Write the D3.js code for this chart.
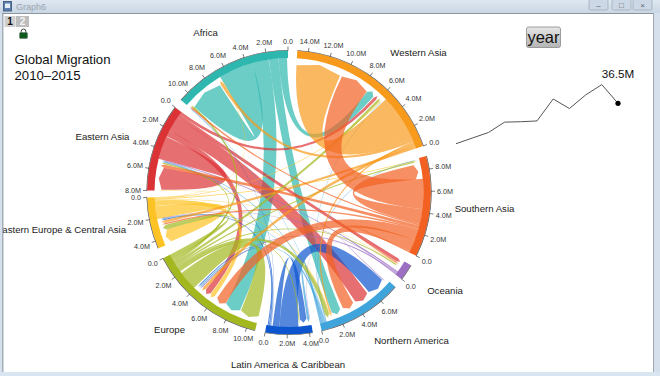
<!DOCTYPE html>
<html>
<head>
<meta charset="utf-8">
<script src="https://cdn.jsdelivr.net/npm/d3@7"></script>
<style>
  html, body { margin: 0; padding: 0; background: #fff; overflow: hidden; }
  svg { display: block; font-family: "Liberation Sans", Arial, sans-serif; }
</style>
</head>
<body>
<svg id="chart" width="660" height="376"></svg>
<script>
// regions clockwise from 12 o'clock
const regionCodes = ["WA", "SA", "OC", "NA", "LA", "EU", "EE", "EA", "AF"];
const regionNames = ["Western Asia", "Southern Asia", "Oceania", "Northern America", "Latin America & Caribbean", "Europe", "Eastern Europe & Central Asia", "Eastern Asia", "Africa"];
const regionTotals = [15, 9.2, 1.5, 7.8, 4.3, 10.8, 4.7, 8, 10.9];
const regionColors = ["#F89A1C", "#F26122", "#9C6FC4", "#3FA3DC", "#0D55CF", "#A3B81E", "#FDC324", "#DB3236", "#2DB7AE"];

// outflows of each region: [destination, size in M, position on own axis, position on destination axis]
const flowsAF = [["WA", 0.8, 0.1, 6.55], ["NA", 0.9, 0.92, 1.4], ["EU", 1.55, 1.85, 7.3], ["AF", 3.35, 3.4, 7.2]];
const flowsWA = [["EE", 0.25, 0, 2.35], ["EU", 0.3, 0.25, 4.5], ["NA", 0.15, 0.55, 1.2], ["AF", 0.3, 0.7, 6.8], ["WA", 4.5, 1, 10.5]];
const flowsSA = [["OC", 0.12, 0, 0.95], ["NA", 1.15, 0.12, 2.6], ["EU", 1, 1.27, 6.25], ["EE", 0.15, 2.27, 2.62], ["EA", 0.3, 2.42, 5.38], ["AF", 0.15, 2.72, 10.72], ["SA", 1.43, 2.87, 7.2], ["WA", 2.9, 4.3, 7.4]];
const flowsOC = [["NA", 0.08, 0, 7.5], ["LA", 0.04, 0.08, 4.2], ["EU", 0.1, 0.12, 4.35], ["EA", 0.1, 0.22, 4.95], ["EE", 0.06, 0.32, 2.08]];
const flowsNA = [["LA", 0.25, 0, 3.95], ["EU", 0.12, 0.25, 4.2], ["EE", 0.06, 0.37, 2.15], ["EA", 0.08, 0.43, 5.05], ["AF", 0.04, 0.51, 10.87], ["WA", 0.05, 0.55, 5.58], ["SA", 0.05, 0.6, 9.05]];
const flowsLA = [["EU", 0.1, 0.12, 4.05], ["EE", 0.1, 0.25, 2.22], ["EA", 0.05, 0.38, 5.13], ["AF", 0.03, 0.45, 10.91], ["LA", 0.65, 0.6, 3.25], ["NA", 1.8, 1.25, 5.65]];
const flowsEU = [["EE", 0.5, 0, 2.8], ["EA", 0.15, 0.5, 5.2], ["AF", 0.2, 0.65, 10.55], ["WA", 0.25, 0.85, 5.8], ["SA", 0.15, 1.1, 8.85], ["OC", 0.12, 1.25, 0.74], ["NA", 0.4, 1.37, 0.7], ["LA", 0.1, 1.77, 3.1], ["EU", 1.85, 2.05, 8.95]];
const flowsEE = [["EA", 0.05, 0, 7.92], ["AF", 0.05, 0.05, 6.72], ["WA", 0.08, 0.1, 5.67], ["SA", 0.08, 0.18, 9.0], ["OC", 0.05, 0.26, 0.88], ["NA", 0.08, 0.31, 1.12], ["EU", 0.45, 0.39, 5.5], ["EE", 1.25, 0.85, 3.3]];
const flowsEA = [["WA", 0.3, 0, 6.15], ["OC", 0.35, 0.3, 1.1], ["NA", 1.45, 0.65, 4.0], ["EU", 0.6, 2.1, 4.85], ["EA", 2.2, 2.75, 5.7]];

// total migrants per year step, ending on the labelled 36.5M
const sparkYears = [2005, 2006, 2007, 2008, 2009, 2010, 2011, 2012, 2013, 2014, 2015];
const sparkValues = [26.4, 27.8, 29.2, 31.8, 31.9, 32.1, 37.6, 35.2, 38.6, 41.2, 36.5];

const svg = d3.select("#chart");
const cx = 289, cy = 192.5;
const ringInner = 134.5, ringOuter = 142;
const firstDeg = 3.35, degPerM = 4.5;
const gapsDeg = [4.25, 4.35, 4.0, 3.65, 4.1, 4.45, 2.8, 3.75, 3.75]; // after each region
const rad = Math.PI / 180;

// one linear scale per region: value in M -> angle, 0 sits on the clockwise end
const angleScale = {};
let cursor = firstDeg;
regionCodes.forEach((code, i) => {
    const end = cursor + regionTotals[i] * degPerM;
    angleScale[code] = d3.scaleLinear().domain([0, regionTotals[i]]).range([end * rad, cursor * rad]);
    cursor = end + gapsDeg[i];
});

const colorOf = d3.scaleOrdinal().domain(regionCodes).range(regionColors);

const plot = svg.append("g").attr("transform", `translate(${cx},${cy})`);

// ribbons
const allFlows = [
    ["AF", flowsAF], ["EA", flowsEA], ["EE", flowsEE], ["LA", flowsLA], ["NA", flowsNA],
    ["OC", flowsOC], ["EU", flowsEU], ["WA", flowsWA], ["SA", flowsSA]
].flatMap(([from, rows]) => rows.map(r => ({ from, to: r[0], value: r[1], fromAt: r[2], toAt: r[3] })));

const polar = (r, a) => [r * Math.sin(a), -r * Math.cos(a)];
const middle = (p, q) => [(p[0] + q[0]) / 2, (p[1] + q[1]) / 2];

const sourceR = ringInner + 0.3, bodyR = 127.5, tipR = 131;

// d3.ribbon pinches bands that cross the middle, so the two edges get
// separate control points, spread apart to hold most of the band's width
function flowPath(d) {
    const sa0 = angleScale[d.from](d.fromAt + d.value), sa1 = angleScale[d.from](d.fromAt);
    const ta0 = angleScale[d.to](d.toAt + d.value), ta1 = angleScale[d.to](d.toAt);

    const midA = middle(polar(sourceR, sa1), polar(bodyR, ta0));
    const midB = middle(polar(sourceR, sa0), polar(bodyR, ta1));
    const dx = midA[0] - midB[0], dy = midA[1] - midB[1];
    const dist = Math.hypot(dx, dy) || 1;

    const across = Math.acos(Math.cos((sa0 + sa1) / 2 - (ta0 + ta1) / 2));
    const width = d.value * degPerM * rad * bodyR;
    const spread = d.from === d.to ? 0 : Math.max(0, 0.8 * width - 0.5 * dist) * Math.sin(across / 2);
    const ux = dx / dist * spread, uy = dy / dist * spread;

    const p = d3.path();
    p.moveTo(...polar(sourceR, sa0));
    p.arc(0, 0, sourceR, sa0 - Math.PI / 2, sa1 - Math.PI / 2);
    const t0 = polar(bodyR, ta0);
    p.quadraticCurveTo(ux, uy, t0[0], t0[1]);
    p.lineTo(...polar(tipR, (ta0 + ta1) / 2));
    p.lineTo(...polar(bodyR, ta1));
    const s0 = polar(sourceR, sa0);
    p.quadraticCurveTo(-ux, -uy, s0[0], s0[1]);
    p.closePath();
    return p.toString();
}

plot.selectAll(".flow")
    .data(allFlows)
    .enter()
    .append("path")
    .attr("class", "flow")
    .attr("d", flowPath)
    .attr("fill", d => colorOf(d.from))
    .attr("fill-opacity", 0.7);

// outer ring
const ringArc = d3.arc().innerRadius(ringInner).outerRadius(ringOuter);
const axisArc = d3.arc().innerRadius(ringOuter).outerRadius(ringOuter + 0.6);

plot.selectAll(".ring")
    .data(regionCodes)
    .enter()
    .append("path")
    .attr("class", "ring")
    .attr("fill", d => colorOf(d))
    .attr("d", d => ringArc({ startAngle: angleScale[d].range()[1], endAngle: angleScale[d].range()[0] }));

plot.selectAll(".axis-line")
    .data(regionCodes)
    .enter()
    .append("path")
    .attr("class", "axis-line")
    .attr("fill", "#444")
    .attr("d", d => axisArc({ startAngle: angleScale[d].range()[1], endAngle: angleScale[d].range()[0] }));

// ticks every 2M on each axis
const tickFormat = v => v === 0 ? "0.0" : d3.format(".1f")(v) + "M";
const ticks = regionCodes.flatMap((code, i) =>
    d3.range(0, regionTotals[i] + 0.001, 2).map(v => ({ code, v, a: angleScale[code](v) })));

plot.selectAll(".tick-line")
    .data(ticks)
    .enter()
    .append("line")
    .attr("class", "tick-line")
    .attr("x1", d => ringOuter * Math.sin(d.a))
    .attr("y1", d => -ringOuter * Math.cos(d.a))
    .attr("x2", d => (ringOuter + 4) * Math.sin(d.a))
    .attr("y2", d => -(ringOuter + 4) * Math.cos(d.a))
    .attr("stroke", "#444")
    .attr("stroke-width", 0.7);

plot.selectAll(".tick-label")
    .data(ticks)
    .enter()
    .append("text")
    .attr("class", "tick-label")
    .attr("x", d => {
        const halfW = d.v === 0 ? 5 : 8;
        return (ringOuter + 6 + Math.abs(Math.sin(d.a)) * halfW + Math.abs(Math.cos(d.a)) * 3) * Math.sin(d.a);
    })
    .attr("y", d => {
        const halfW = d.v === 0 ? 5 : 8;
        return -(ringOuter + 6 + Math.abs(Math.sin(d.a)) * halfW + Math.abs(Math.cos(d.a)) * 3) * Math.cos(d.a);
    })
    .attr("dy", "0.35em")
    .attr("text-anchor", "middle")
    .attr("font-size", 7.2)
    .attr("fill", "#333")
    .text(d => tickFormat(d.v));

// region names
const labelX = [418.5, 484.5, 445, 411.5, 288, 169.5, 61, 102.5, 205.5];
const labelY = [53, 209, 291, 341, 365, 330, 229.5, 137, 33];
svg.selectAll(".region-label")
    .data(regionNames)
    .enter()
    .append("text")
    .attr("class", "region-label")
    .attr("x", (d, i) => labelX[i])
    .attr("y", (d, i) => labelY[i])
    .attr("dy", "0.35em")
    .attr("text-anchor", "middle")
    .attr("font-size", 9.6)
    .attr("fill", "#222")
    .text(d => d);

// title
svg.append("text").attr("x", 14.5).attr("y", 64).attr("font-size", 13.2).attr("fill", "#111").text("Global Migration");
svg.append("text").attr("x", 14.5).attr("y", 80).attr("font-size", 13.2).attr("fill", "#111").text("2010–2015");

// year button
const btnGrad = svg.append("defs").append("linearGradient").attr("id", "btn").attr("x2", 0).attr("y2", 1);
btnGrad.append("stop").attr("offset", 0).attr("stop-color", "#E6E6E6");
btnGrad.append("stop").attr("offset", 1).attr("stop-color", "#B4B4B4");
svg.append("rect").attr("x", 526.5).attr("y", 27).attr("width", 34).attr("height", 20.5).attr("rx", 2)
    .attr("fill", "url(#btn)").attr("stroke", "#8a8a8a").attr("stroke-width", 0.8);
svg.append("text").attr("x", 543.5).attr("y", 43).attr("text-anchor", "middle").attr("font-size", 16.5).attr("fill", "#111").text("year");

// total line
const sparkX = d3.scaleLinear().domain([2005, 2015]).range([456, 618]);
const sparkY = d3.scaleLinear().domain([26.4, 41.2]).range([143.7, 84.6]);
const sparkLine = d3.line().x((d, i) => sparkX(sparkYears[i])).y(d => sparkY(d));
svg.append("path")
    .datum(sparkValues)
    .attr("d", sparkLine)
    .attr("fill", "none")
    .attr("stroke", "#555")
    .attr("stroke-width", 1);
svg.append("circle")
    .attr("cx", sparkX(sparkYears[sparkYears.length - 1]))
    .attr("cy", sparkY(sparkValues[sparkValues.length - 1]))
    .attr("r", 2.6)
    .attr("fill", "#000");
svg.append("text").attr("x", 618).attr("y", 78).attr("text-anchor", "middle").attr("font-size", 11.7).attr("fill", "#111").text("36.5M");

// window frame around the graph
const frame = svg.append("g");
const barGrad = svg.select("defs").append("linearGradient").attr("id", "bar").attr("x2", 0).attr("y2", 1);
barGrad.append("stop").attr("offset", 0).attr("stop-color", "#DFE8F2");
barGrad.append("stop").attr("offset", 1).attr("stop-color", "#C9D6E4");
frame.append("rect").attr("width", 660).attr("height", 13).attr("fill", "url(#bar)");
frame.append("rect").attr("y", 13).attr("width", 3).attr("height", 363).attr("fill", "#D5E0EC");
frame.append("rect").attr("x", 654).attr("y", 13).attr("width", 6).attr("height", 363).attr("fill", "#D5E0EC");
frame.append("rect").attr("y", 372).attr("width", 660).attr("height", 4).attr("fill", "#D9E5F0");
frame.append("rect").attr("x", 2.5).attr("y", 13).attr("width", 651).attr("height", 0.8).attr("fill", "#707C88");
frame.append("rect").attr("x", 2.5).attr("y", 13).attr("width", 0.8).attr("height", 359).attr("fill", "#707C88");
frame.append("rect").attr("x", 653).attr("y", 13).attr("width", 0.8).attr("height", 359).attr("fill", "#8A95A0");

frame.append("rect").attr("x", 3.5).attr("y", 1.5).attr("width", 8).attr("height", 9.5).attr("fill", "#5B7FB0").attr("stroke", "#37506F").attr("stroke-width", 0.8);
frame.append("rect").attr("x", 5).attr("y", 3.5).attr("width", 5).attr("height", 4.5).attr("fill", "#E4ECF5");
frame.append("text").attr("x", 16).attr("y", 10).attr("font-size", 9).attr("fill", "#9AA4AE").text("Graph6");

[[589, "\u2013"], [612, "\u25A1"], [633, "\u00D7"]].forEach(([x, glyph]) => {
    frame.append("rect").attr("x", x).attr("y", -1).attr("width", 19).attr("height", 11).attr("rx", 1.5)
        .attr("fill", "#CCD8E5").attr("stroke", "#9AA8B6").attr("stroke-width", 0.7);
    frame.append("text").attr("x", x + 9.5).attr("y", 8).attr("text-anchor", "middle").attr("font-size", 8).attr("fill", "#56616C").text(glyph);
});

// page tabs and lock
frame.append("rect").attr("x", 4.5).attr("y", 16).attr("width", 11).attr("height", 11).attr("fill", "#CFCFCF");
frame.append("text").attr("x", 10).attr("y", 25).attr("text-anchor", "middle").attr("font-size", 10).attr("font-weight", "bold").attr("fill", "#111").text("1");
frame.append("rect").attr("x", 16).attr("y", 16).attr("width", 13).attr("height", 11).attr("fill", "#BDBDBD");
frame.append("text").attr("x", 22.5).attr("y", 25).attr("text-anchor", "middle").attr("font-size", 10).attr("font-weight", "bold").attr("fill", "#F4F4F4").text("2");
frame.append("rect").attr("x", 19.5).attr("y", 32.5).attr("width", 8).attr("height", 6).attr("rx", 1).attr("fill", "#0F5A1E").attr("stroke", "#6D7F70").attr("stroke-width", 0.6);
frame.append("path").attr("d", "M21.2,32.5 v-1.2 a2.3,2.3 0 0 1 4.6,0 v1.2").attr("fill", "none").attr("stroke", "#3A4A3C").attr("stroke-width", 1);
</script>
</body>
</html>
